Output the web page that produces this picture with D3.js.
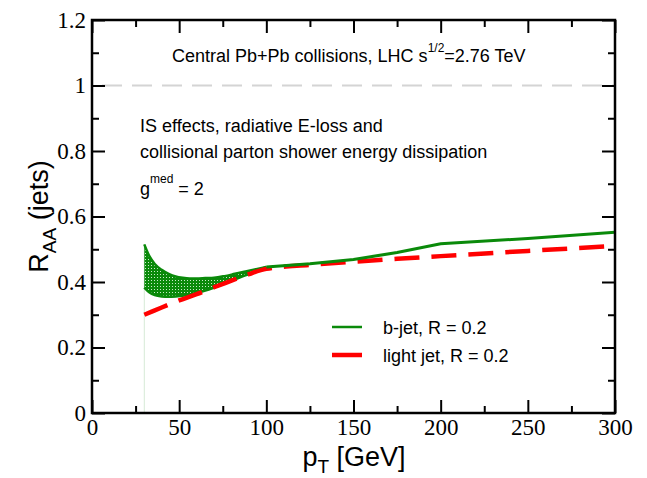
<!DOCTYPE html>
<html>
<head>
<meta charset="utf-8">
<script src="https://cdn.jsdelivr.net/npm/d3@7"></script>
<style>
  body { margin: 0; background: #fff; }
  svg { display: block; }
  .tick-label { font-family: "Liberation Serif", "Times New Roman", serif; font-size: 23px; fill: #000; }
  .note { font-family: "Liberation Sans", Arial, sans-serif; font-size: 18px; fill: #000; }
  .title { font-family: "Liberation Sans", Arial, sans-serif; font-size: 27px; fill: #000; }
</style>
</head>
<body>
<div id="chart"></div>
<script>
// ---- data ----
const xTicks = [0, 50, 100, 150, 200, 250, 300];
const xMinor = [25, 75, 125, 175, 225, 275];
const yTicks = [0, 0.2, 0.4, 0.6, 0.8, 1, 1.2];
const yMinor = [0.1, 0.3, 0.5, 0.7, 0.9, 1.1];

// b-jet uncertainty band (low pT)
const bandPt    = [30, 33, 36, 40, 44, 48, 52, 56, 60, 65, 70, 76, 82, 88, 94, 100];
const bandUpper = [0.515, 0.478, 0.455, 0.437, 0.425, 0.417, 0.413, 0.411, 0.411, 0.412, 0.413, 0.418, 0.425, 0.432, 0.439, 0.446];
const bandLower = [0.383, 0.368, 0.360, 0.356, 0.355, 0.356, 0.358, 0.362, 0.367, 0.374, 0.383, 0.395, 0.408, 0.420, 0.433, 0.446];

// b-jet, R = 0.2 (above the band)
const bPt  = [100, 125, 150, 175, 200, 250, 300];
const bRaa = [0.446, 0.456, 0.469, 0.490, 0.517, 0.533, 0.552];

// light jet, R = 0.2
const lPt  = [30, 40, 50, 60, 70, 80, 90, 100, 125, 150, 175, 200, 250, 300];
const lRaa = [0.300, 0.322, 0.344, 0.363, 0.384, 0.404, 0.424, 0.440, 0.452, 0.462, 0.471, 0.479, 0.495, 0.510];

const W = 647, H = 478;
const margin = { left: 92, right: 32, top: 20, bottom: 65 };
const GREEN = '#0a8a0a', RED = '#ff0000';

const svg = d3.select('#chart').append('svg').attr('width', W).attr('height', H);

const x = d3.scaleLinear().domain([0, 300]).range([margin.left, W - margin.right]);
const y = d3.scaleLinear().domain([0, 1.2]).range([H - margin.bottom, margin.top]);

// dotted pattern for the band
const defs = svg.append('defs');
const pat = defs.append('pattern').attr('id', 'dots')
  .attr('width', 3).attr('height', 3).attr('patternUnits', 'userSpaceOnUse');
pat.append('rect').attr('width', 3).attr('height', 3).attr('fill', GREEN);
pat.append('rect').attr('x', 1).attr('y', 1).attr('width', 1).attr('height', 1).attr('fill', '#c8eac8');

defs.append('clipPath').attr('id', 'plot-clip').append('rect')
  .attr('x', x(0)).attr('y', y(1.2)).attr('width', x(300) - x(0)).attr('height', y(0) - y(1.2));

const plot = svg.append('g').attr('clip-path', 'url(#plot-clip)');

// reference line at 1
plot.append('line')
  .attr('x1', x(0)).attr('x2', x(300)).attr('y1', y(1)).attr('y2', y(1))
  .attr('stroke', '#d4d4d4').attr('stroke-width', 2)
  .attr('stroke-dasharray', '20,10').attr('stroke-dashoffset', 20);

// thin vertical edge at the band start
plot.append('line')
  .attr('x1', x(bandPt[0])).attr('x2', x(bandPt[0]))
  .attr('y1', y(0)).attr('y2', y(bandUpper[0]))
  .attr('stroke', '#d6ead6').attr('stroke-width', 1);

const bandData = bandPt.map((p, i) => ({ p, lo: bandLower[i], hi: bandUpper[i] }));
plot.append('path').datum(bandData)
  .attr('d', d3.area().x(d => x(d.p)).y0(d => y(d.lo)).y1(d => y(d.hi)).curve(d3.curveMonotoneX))
  .attr('fill', 'url(#dots)').attr('stroke', 'none');

const lineBand = key => d3.line().x(d => x(d.p)).y(d => y(d[key])).curve(d3.curveMonotoneX);
plot.append('path').datum(bandData).attr('d', lineBand('hi'))
  .attr('fill', 'none').attr('stroke', GREEN).attr('stroke-width', 2.5);
plot.append('path').datum(bandData).attr('d', lineBand('lo'))
  .attr('fill', 'none').attr('stroke', GREEN).attr('stroke-width', 2.5);

// light jet (dashed red)
plot.append('path').datum(lPt.map((p, i) => [p, lRaa[i]]))
  .attr('d', d3.line().x(d => x(d[0])).y(d => y(d[1])).curve(d3.curveMonotoneX))
  .attr('fill', 'none').attr('stroke', RED).attr('stroke-width', 4.5)
  .attr('stroke-dasharray', '25,12');

// b-jet line (piecewise, kink at 200 GeV)
plot.append('path').datum(bPt.map((p, i) => [p, bRaa[i]]))
  .attr('d', d3.line().x(d => x(d[0])).y(d => y(d[1])))
  .attr('fill', 'none').attr('stroke', GREEN).attr('stroke-width', 3);

// ---- axes: inward ticks on all four sides ----
function styleAxis(g) {
  g.select('.domain').remove();
  g.selectAll('.tick line').attr('stroke', '#000').attr('stroke-width', 2);
  g.selectAll('.tick text').attr('class', 'tick-label').attr('font-family', null).attr('font-size', null);
}
const yBottom = y(0), yTop = y(1.2), xLeft = x(0), xRight = x(300);
const MAJ = 13, MIN = 7;

svg.append('g').attr('transform', `translate(0,${yBottom})`)
  .call(d3.axisBottom(x).tickValues(xTicks).tickSizeInner(-MAJ).tickSizeOuter(0).tickPadding(6).tickFormat(d3.format('d')))
  .call(styleAxis);
svg.append('g').attr('transform', `translate(0,${yBottom})`)
  .call(d3.axisBottom(x).tickValues(xMinor).tickSizeInner(-MIN).tickSizeOuter(0).tickFormat(''))
  .call(styleAxis);
svg.append('g').attr('transform', `translate(0,${yTop})`)
  .call(d3.axisTop(x).tickValues(xTicks).tickSizeInner(-MAJ).tickSizeOuter(0).tickFormat(''))
  .call(styleAxis);
svg.append('g').attr('transform', `translate(0,${yTop})`)
  .call(d3.axisTop(x).tickValues(xMinor).tickSizeInner(-MIN).tickSizeOuter(0).tickFormat(''))
  .call(styleAxis);

svg.append('g').attr('transform', `translate(${xLeft},0)`)
  .call(d3.axisLeft(y).tickValues(yTicks).tickSizeInner(-MAJ).tickSizeOuter(0).tickPadding(6).tickFormat(d => String(+d.toFixed(1))))
  .call(styleAxis);
svg.append('g').attr('transform', `translate(${xLeft},0)`)
  .call(d3.axisLeft(y).tickValues(yMinor).tickSizeInner(-MIN).tickSizeOuter(0).tickFormat(''))
  .call(styleAxis);
svg.append('g').attr('transform', `translate(${xRight},0)`)
  .call(d3.axisRight(y).tickValues(yTicks).tickSizeInner(-MAJ).tickSizeOuter(0).tickFormat(''))
  .call(styleAxis);
svg.append('g').attr('transform', `translate(${xRight},0)`)
  .call(d3.axisRight(y).tickValues(yMinor).tickSizeInner(-MIN).tickSizeOuter(0).tickFormat(''))
  .call(styleAxis);

// frame
svg.append('rect').attr('x', xLeft).attr('y', yTop).attr('width', xRight - xLeft).attr('height', yBottom - yTop)
  .attr('fill', 'none').attr('stroke', '#000').attr('stroke-width', 2.5);

// ---- annotations ----
const t1 = svg.append('text').attr('class', 'note').attr('font-size', 17).attr('x', 172).attr('y', 62);
t1.append('tspan').text('Central Pb+Pb collisions, LHC s');
t1.append('tspan').attr('dy', -10).attr('font-size', 12).text('1/2');
t1.append('tspan').attr('dy', 10).text('=2.76 TeV');

svg.append('text').attr('class', 'note').attr('x', 140).attr('y', 132).text('IS effects, radiative E-loss and');
svg.append('text').attr('class', 'note').attr('x', 140).attr('y', 158).text('collisional parton shower energy dissipation');
const t3 = svg.append('text').attr('class', 'note').attr('x', 140).attr('y', 195);
t3.append('tspan').text('g');
t3.append('tspan').attr('dy', -12).attr('font-size', 12).text('med');
t3.append('tspan').attr('dy', 12).text(' = 2');

// legend
const legend = [
  { label: 'b-jet, R = 0.2', color: GREEN, width: 2.5, y: 327 },
  { label: 'light jet, R = 0.2', color: RED, width: 4.5, y: 355 }
];
legend.forEach(l => {
  svg.append('line').attr('x1', 332).attr('x2', 362).attr('y1', l.y).attr('y2', l.y)
    .attr('stroke', l.color).attr('stroke-width', l.width);
  svg.append('text').attr('class', 'note').attr('font-size', 21).attr('x', 383).attr('y', l.y + 7).text(l.label);
});

// axis titles
const xt = svg.append('text').attr('class', 'title').attr('text-anchor', 'middle').attr('x', 354).attr('y', 466);
xt.append('tspan').text('p');
xt.append('tspan').attr('dy', 7).attr('font-size', 19).text('T');
xt.append('tspan').attr('dy', -7).text(' [GeV]');

const yt = svg.append('text').attr('class', 'title').attr('text-anchor', 'middle')
  .attr('transform', `translate(48,${y(0.6)}) rotate(-90)`);
yt.append('tspan').text('R');
yt.append('tspan').attr('dy', 8).attr('font-size', 19).text('AA');
yt.append('tspan').attr('dy', -8).text(' (jets)');
</script>
</body>
</html>
